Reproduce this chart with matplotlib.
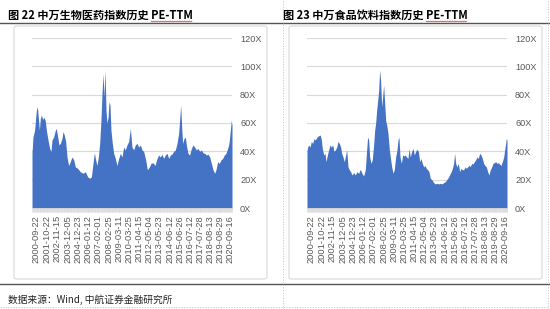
import matplotlib
matplotlib.use("Agg")
import matplotlib.pyplot as plt
import numpy as np
import pandas as pd
from matplotlib.patches import FancyBboxPatch
from matplotlib.lines import Line2D
from matplotlib.ticker import AutoMinorLocator

# ---------------- data ----------------
date_labels = ["2000-09-22", "2001-10-22", "2002-11-15", "2003-12-05", "2004-12-23",
               "2006-01-12", "2007-02-01", "2008-02-25", "2009-03-11", "2010-03-25",
               "2011-04-15", "2012-05-04", "2013-05-23", "2014-06-12", "2015-06-26",
               "2016-07-12", "2017-07-28", "2018-08-13", "2019-08-29", "2020-09-16"]
y_ticks = [0, 20, 40, 60, 80, 100, 120]

pharma_t = [2000.26, 2000.36, 2000.53, 2000.71, 2000.81, 2000.91, 2001.02, 2001.12, 2001.22, 2001.36,
            2001.50, 2001.63, 2001.74, 2001.91, 2002.08, 2002.22, 2002.32, 2002.49, 2002.67, 2002.77,
            2002.91, 2003.04, 2003.18, 2003.35, 2003.46, 2003.59, 2003.73, 2003.87, 2004.04, 2004.21,
            2004.38, 2004.56, 2004.73, 2004.97, 2005.24, 2005.52, 2005.76, 2006.00, 2006.21, 2006.38,
            2006.55, 2006.69, 2006.82, 2006.96, 2007.10, 2007.24, 2007.37, 2007.48, 2007.58, 2007.68,
            2007.79, 2007.89, 2007.99, 2008.10, 2008.20, 2008.30, 2008.40, 2008.54, 2008.68, 2008.85,
            2009.02, 2009.20, 2009.37, 2009.54, 2009.71, 2009.88, 2010.05, 2010.23, 2010.40, 2010.57,
            2010.74, 2010.91, 2011.09, 2011.26, 2011.43, 2011.60, 2011.77, 2011.98, 2012.15, 2012.36,
            2012.53, 2012.73, 2012.94, 2013.15, 2013.32, 2013.49, 2013.66, 2013.83, 2014.01, 2014.18,
            2014.35, 2014.52, 2014.69, 2014.87, 2015.04, 2015.21, 2015.38, 2015.48, 2015.59, 2015.69,
            2015.79, 2015.93, 2016.07, 2016.17, 2016.34, 2016.51, 2016.69, 2016.86, 2017.03, 2017.20,
            2017.37, 2017.55, 2017.72, 2017.89, 2018.06, 2018.23, 2018.40, 2018.58, 2018.75, 2018.92,
            2019.09, 2019.23, 2019.40, 2019.57, 2019.75, 2019.92, 2020.09, 2020.26, 2020.43, 2020.57,
            2020.71, 2020.81, 2020.88]
pharma_pe = [38.6, 50, 55, 69, 71.5, 64, 55, 63, 65.6, 62.6,
             64, 61.6, 55, 48, 42, 40, 48, 50, 55, 56,
             50, 44.5, 45.6, 49, 54, 51.5, 47, 36, 30, 32.7,
             36, 34, 29, 28, 25.6, 24.5, 25.6, 22, 21, 22,
             31.5, 39, 34, 30, 36, 45.6, 62, 81, 95, 78.6,
             97.4, 69, 60, 64, 75, 72.7, 55, 45.6, 38.6, 35,
             30, 35, 38.6, 36, 43, 41, 44.5, 47, 56, 43,
             41, 44.5, 45.6, 43, 44.5, 41, 40, 34, 27, 29,
             31.5, 32, 30, 35, 37.4, 36, 38, 35, 37.4, 38.6,
             35, 37.4, 38, 40, 41, 45.6, 52.7, 62, 72.7, 57.4,
             45.6, 49, 50, 44.5, 38.6, 37.4, 42, 44.5, 43, 41,
             42, 40, 41, 39, 38.6, 37.4, 38, 36, 31.5, 27,
             24.5, 27, 32.7, 31.5, 34, 35, 37.4, 38.6, 42, 45.6,
             55, 62, 58.6]

food_t = [2000.26, 2000.33, 2000.43, 2000.57, 2000.71, 2000.84, 2000.98, 2001.12, 2001.29, 2001.46,
          2001.63, 2001.74, 2001.84, 2001.98, 2002.12, 2002.22, 2002.36, 2002.49, 2002.63, 2002.77,
          2002.91, 2003.04, 2003.18, 2003.32, 2003.46, 2003.59, 2003.73, 2003.83, 2003.97, 2004.11,
          2004.25, 2004.35, 2004.49, 2004.62, 2004.76, 2004.90, 2005.07, 2005.24, 2005.41, 2005.59,
          2005.76, 2005.93, 2006.10, 2006.27, 2006.41, 2006.51, 2006.62, 2006.72, 2006.86, 2006.99,
          2007.13, 2007.24, 2007.34, 2007.44, 2007.55, 2007.65, 2007.75, 2007.85, 2007.96, 2008.06,
          2008.16, 2008.27, 2008.37, 2008.51, 2008.61, 2008.75, 2008.85, 2008.99, 2009.13, 2009.26,
          2009.40, 2009.54, 2009.64, 2009.74, 2009.85, 2009.99, 2010.12, 2010.26, 2010.40, 2010.53,
          2010.67, 2010.78, 2010.91, 2011.05, 2011.19, 2011.33, 2011.46, 2011.60, 2011.74, 2011.88,
          2012.01, 2012.15, 2012.29, 2012.43, 2012.56, 2012.70, 2012.84, 2012.97, 2013.15, 2013.32,
          2013.49, 2013.66, 2013.83, 2014.01, 2014.18, 2014.35, 2014.52, 2014.69, 2014.87, 2015.04,
          2015.21, 2015.38, 2015.48, 2015.59, 2015.72, 2015.86, 2016.00, 2016.14, 2016.27, 2016.41,
          2016.55, 2016.69, 2016.82, 2016.96, 2017.10, 2017.24, 2017.37, 2017.51, 2017.65, 2017.79,
          2017.92, 2018.06, 2018.20, 2018.34, 2018.47, 2018.61, 2018.75, 2018.89, 2019.02, 2019.16,
          2019.30, 2019.44, 2019.57, 2019.71, 2019.85, 2019.99, 2020.12, 2020.26, 2020.40, 2020.54,
          2020.64, 2020.74, 2020.81, 2020.88]
food_pe = [40, 43, 44.5, 43, 47, 45.6, 49, 48, 50, 51,
           51.5, 48, 42, 37.4, 38.6, 32.7, 37.4, 41, 44.5, 43,
           44.5, 40, 41, 43, 47, 45.6, 43, 38.6, 36, 32.7,
           37.4, 41, 29, 27, 25.6, 23.3, 25, 23.3, 25.6, 24.5,
           27.3, 24.5, 22.6, 27, 41, 50, 48, 36, 31.5, 34,
           44.5, 55, 60, 69, 76, 83, 97.4, 90, 71.5, 78.6,
           86.8, 74, 62, 57.4, 52.7, 41, 36, 29, 24.5, 27,
           36, 41, 48, 50, 36, 31.5, 37.4, 36.7, 37.4, 36,
           35, 42, 36, 40, 42, 37.4, 40, 41.4, 40, 32.7,
           35, 31.5, 29, 30, 28, 27, 25.6, 21, 19.8, 17.9,
           17, 17.4, 17, 17.4, 17, 17.9, 18.6, 20.2, 22, 24.5,
           27, 31.5, 38.6, 31.5, 29, 31.5, 25.6, 28, 27, 27,
           29, 28, 29, 30, 29.4, 31.5, 31, 32.7, 34, 36,
           35, 38.6, 37.4, 35, 31.5, 30, 29, 25.6, 23.3, 27,
           29, 31.5, 32, 32.7, 31.5, 32, 31, 30, 32.7, 36,
           41, 45.6, 49, 48]

titles = ["图 22 中万生物医药指数历史 PE-TTM", "图 23 中万食品饮料指数历史 PE-TTM"]
source_text = "数据来源：Wind, 中航证券金融研究所"

# ---------------- figure ----------------
W, H = 550, 309
fig = plt.figure(figsize=(W / 100, H / 100), dpi=100)
fig.patch.set_facecolor("white")

def fx(px):
    return px / W

def fy(py):
    return 1 - py / H

CJK = ["Noto Sans CJK SC", "DejaVu Sans"]
NUM = ["Liberation Sans", "DejaVu Sans"]
BLUE = "#4472C4"
GRID = "#d9d9d9"
LBL = "#595959"

dts = pd.to_datetime(date_labels)
label_pos = [d.year + (d.dayofyear - 1) / 365.25 for d in dts]
x_min, x_max = min(pharma_t[0], food_t[0]), max(pharma_t[-1], food_t[-1])

def panel(x0, t, pe, title):
    # chart frame
    box = FancyBboxPatch((fx(x0 - 18), fy(279)), (253) / W, (279 - 26) / H,
                         boxstyle="round,pad=0,rounding_size=0.006",
                         transform=fig.transFigure, fc="white", ec=GRID, lw=0.8, zorder=-1)
    fig.add_artist(box)

    ax = fig.add_axes([fx(x0), fy(208), 200 / W, 170 / H])
    ax.set_facecolor("none")
    ax.fill_between(t, pe, 0, color=BLUE, lw=0, zorder=2)
    ax.set_xlim(x_min, x_max)
    ax.set_ylim(0, 120)
    ax.set_yticks(y_ticks)
    ax.set_yticklabels([f"{v}X" for v in y_ticks], family=NUM)
    ax.yaxis.tick_right()
    ax.tick_params(axis="y", length=0, pad=5.8, labelsize=6.6, labelcolor=LBL)
    ax.yaxis.grid(True, color=GRID, lw=0.8)
    ax.set_axisbelow(True)
    for s in ["top", "left", "right"]:
        ax.spines[s].set_visible(False)
    ax.spines["bottom"].set_color(GRID)
    ax.spines["bottom"].set_linewidth(0.6)
    ax.set_xticks(label_pos)
    ax.set_xticklabels(date_labels, rotation=90, family=NUM)
    ax.xaxis.set_minor_locator(AutoMinorLocator(24))
    ax.tick_params(axis="x", which="major", length=2.6, width=0.5, color=GRID,
                   pad=2.4, labelsize=6.7, labelcolor=LBL)
    ax.tick_params(axis="x", which="minor", length=2.6, width=0.4, color=GRID)

    fig.text(fx(x0 - 24), fy(14.8), title, fontsize=8, fontweight="bold",
             family=CJK, va="center", ha="left", color="black")
    return ax

panel(32, pharma_t, pharma_pe, titles[0])
panel(307, food_t, food_pe, titles[1])

# separators
fig.add_artist(Line2D([0, fx(549)], [fy(22.8)] * 2, color="#555555", lw=1.0,
                      transform=fig.transFigure))
fig.add_artist(Line2D([0, fx(549)], [fy(283.5)] * 2, color="#555555", lw=1.0,
                      transform=fig.transFigure))
for xv in (283, 548):
    fig.add_artist(Line2D([fx(xv)] * 2, [0, 1], color="#c8c8c8", lw=0.7,
                          ls=(0, (1.2, 1.5)), transform=fig.transFigure))
fig.add_artist(Line2D([0, fx(548)], [fy(306.5)] * 2, color="#c8c8c8", lw=0.7,
                      ls=(0, (1.2, 1.5)), transform=fig.transFigure))

# source note
fig.text(fx(8), fy(299.5), source_text, fontsize=7, family=CJK, va="center",
         ha="left", color="#222222", style="italic")

# red wavy spell-check underline below "PE-TTM" in each title
fig.canvas.draw()
renderer = fig.canvas.get_renderer()
for txt in list(fig.texts):
    s = txt.get_text()
    if s in titles:
        bb = txt.get_window_extent(renderer)
        tmp = fig.text(0, 0, "PE-TTM", fontsize=8, fontweight="bold", family=CJK)
        w = tmp.get_window_extent(renderer).width
        tmp.remove()
        xs = np.arange(bb.x1 - w, bb.x1 + 0.01, 1.2)
        ys = np.full_like(xs, H - 21.0)
        ys[1::2] -= 1.0
        fig.add_artist(Line2D(xs / W, ys / H, color="#e03030", lw=0.5,
                              transform=fig.transFigure))

fig.savefig("out.png", dpi=100, facecolor="white")
